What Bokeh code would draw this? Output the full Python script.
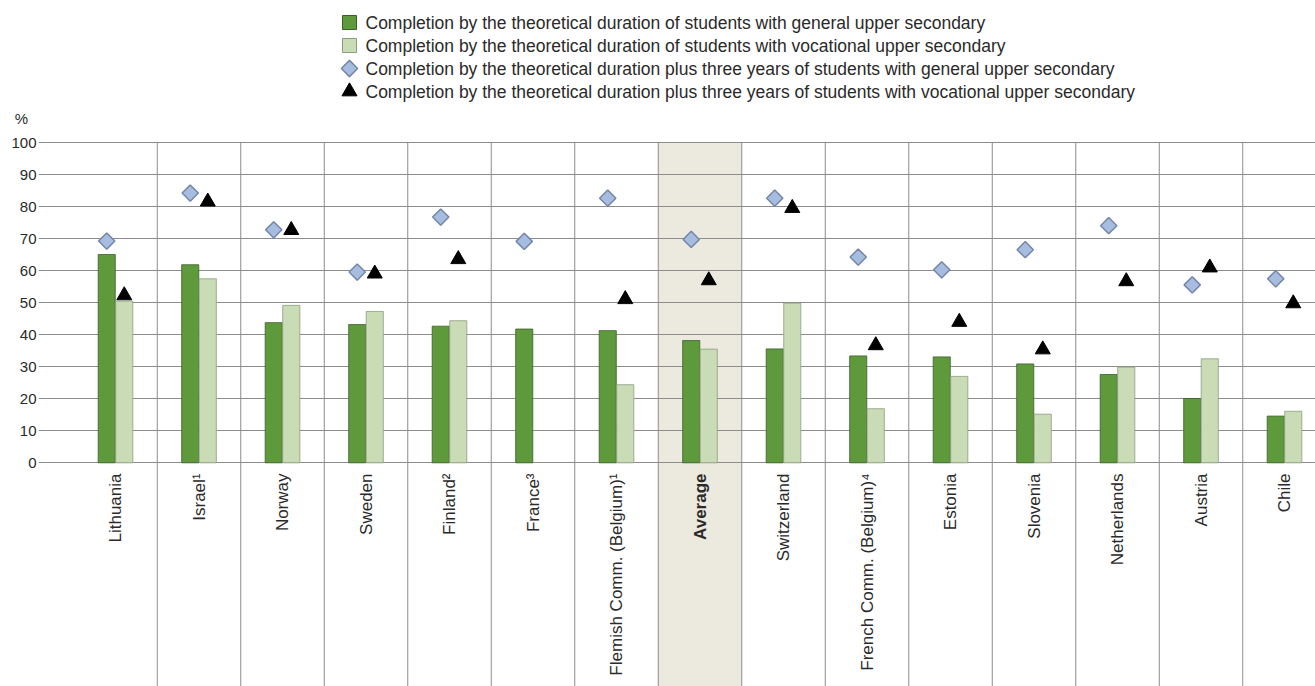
import math
import numpy as np
from bokeh.plotting import figure
from bokeh.models import ColumnDataSource, FixedTicker, Range1d
from bokeh.core.properties import value
from bokeh.embed import file_html
from bokeh.resources import INLINE

# ---------------- data ----------------
categories = ["Lithuania", "Israel\u00b9", "Norway", "Sweden", "Finland\u00b2", "France\u00b3",
              "Flemish Comm. (Belgium)\u00b9", "Average", "Switzerland",
              "French Comm. (Belgium)\u2074", "Estonia", "Slovenia", "Netherlands",
              "Austria", "Chile"]
general = [65.1, 61.9, 43.8, 43.2, 42.7, 41.8, 41.3, 38.2, 35.6, 33.4, 33.1, 30.9, 27.6, 20.1, 14.6]
vocational = [50.5, 57.5, 49.2, 47.3, 44.4, np.nan, 24.4, 35.5, 49.9, 16.9, 27.0, 15.2, 29.9, 32.5, 16.1]
general_plus3 = [69.3, 84.3, 72.8, 59.6, 76.8, 69.2, 82.7, 69.8, 82.7, 64.3, 60.3, 66.6, 74.1, 55.6, 57.5]
vocational_plus3 = [52.3, 81.6, 72.7, 59.1, 63.6, np.nan, 51.1, 57.0, 79.6, 36.7, 44.0, 35.4, 56.7, 61.0, 49.8]
legend_labels = [
    "Completion by the theoretical duration of students with general upper secondary",
    "Completion by the theoretical duration of students with vocational upper secondary",
    "Completion by the theoretical duration plus three years of students with general upper secondary",
    "Completion by the theoretical duration plus three years of students with vocational upper secondary",
]
y_ticks = [0, 10, 20, 30, 40, 50, 60, 70, 80, 90, 100]
unit_label = "%"
highlight = "Average"

# ---------------- styling / geometry ----------------
FONT = "Liberation Sans"
DARK = "#5e9a3c"
LIGHT = "#c9dcb5"
DIAMOND = "#a6bde0"
DIAMOND_LINE = "#7486a8"
BAND = "#ece9de"
GRID = "#8c8c8c"
TXT = "#2a2a2a"

W, H = 1315, 686
LEFT = 38                 # frame left inside figure
PITCH = 83.5              # px per category
FIRST = 115.0             # first category centre, px from figure left
ZERO = 462.3              # y=0, px from figure top
PPU = 3.2                 # px per percentage point

x_start = (LEFT - FIRST) / PITCH
x_end = x_start + (W - LEFT) / PITCH
y_end = ZERO / PPU
y_start = y_end - H / PPU

def fx(px):   # figure px -> data x
    return (px - FIRST) / PITCH

def fy(py):   # figure px -> data y
    return (ZERO - py) / PPU

n = len(categories)
xs = list(range(n))
off = 0.105
bw = 0.205

src = ColumnDataSource(dict(
    x=xs,
    xg=[i - off for i in xs], xv=[i + off for i in xs],
    general=general, vocational=vocational,
    gp3=general_plus3, vp3=vocational_plus3,
))

p = figure(width=W, height=H, output_backend="svg", toolbar_location=None,
           x_range=Range1d(x_start, x_end), y_range=Range1d(y_start, y_end),
           min_border_left=LEFT, min_border_right=0, min_border_top=0, min_border_bottom=0,
           background_fill_color="white", border_fill_color="white")
p.outline_line_color = None
p.xaxis.visible = False
p.xgrid.visible = False

# y axis: numeric ticks plus the "%" unit shown as a label above the 100 tick
unit_pos = round(fy(118), 1)
p.yaxis.ticker = FixedTicker(ticks=y_ticks + [unit_pos])
p.yaxis.major_label_overrides = {unit_pos: unit_label + "\u2007"}
p.yaxis.axis_line_color = None
p.yaxis.major_tick_in = 0
p.yaxis.major_tick_out = 0
p.yaxis.minor_tick_line_color = None
p.yaxis.major_label_text_font = FONT
p.yaxis.major_label_text_font_size = "15px"
p.yaxis.major_label_text_color = TXT
p.yaxis.major_label_standoff = 2
p.ygrid.ticker = FixedTicker(ticks=y_ticks)
p.ygrid.grid_line_color = GRID
p.ygrid.grid_line_width = 1

# highlighted Average band (below the grid)
hi = categories.index(highlight)
p.quad(left=[hi - 0.5], right=[hi + 0.5], top=[y_ticks[-1]], bottom=[y_start],
       fill_color=BAND, line_color=None, level="image")

# category separators
sep = [i + 0.5 for i in xs]
p.segment(x0=sep, x1=sep, y0=[y_ticks[-1]] * n, y1=[y_start] * n,
          line_color=GRID, line_width=1)

# bars
p.vbar(x="xg", top="general", bottom=0, width=bw, source=src,
       fill_color=DARK, line_color="#3d5f2a", line_width=0.8)
p.vbar(x="xv", top="vocational", bottom=0, width=bw, source=src,
       fill_color=LIGHT, line_color="#8d9c80", line_width=0.8)

# markers
p.scatter(x="xg", y="gp3", source=src, marker="square", angle=math.pi / 4, size=11.5,
          fill_color=DIAMOND, line_color=DIAMOND_LINE, line_width=1.5)
p.scatter(x="xv", y="vp3", source=src, marker="triangle", size=15,
          fill_color="black", line_color="black")

# category labels (rotated, below the zero line)
lab_y = fy(473)
normal_idx = [i for i in xs if categories[i] != highlight]
p.text(x=[i for i in normal_idx], y=[lab_y] * len(normal_idx),
       text=[categories[i] for i in normal_idx], angle=math.pi / 2,
       text_align="right", text_baseline="middle",
       text_font=value(FONT), text_font_size="17px", text_color=TXT)
p.text(x=[hi], y=[lab_y], text=[highlight], angle=math.pi / 2,
       text_align="right", text_baseline="middle",
       text_font=value(FONT), text_font_size="17px", text_font_style="bold", text_color=TXT)

# legend (manual, to keep marker sizes as in the reference)
rows_py = [22, 45, 68, 91]
mx = fx(349)
tx = fx(365)
ly = [fy(v) for v in rows_py]
p.scatter(x=[mx], y=[ly[0]], marker="square", size=14, fill_color=DARK, line_color="#3d5f2a")
p.scatter(x=[mx], y=[ly[1]], marker="square", size=14, fill_color=LIGHT, line_color="#8d9c80")
p.scatter(x=[mx], y=[ly[2]], marker="square", angle=math.pi / 4, size=11.5,
          fill_color=DIAMOND, line_color=DIAMOND_LINE, line_width=1.5)
p.scatter(x=[mx], y=[ly[3]], marker="triangle", size=15, fill_color="black", line_color="black")
p.text(x=[tx] * 4, y=ly, text=legend_labels, text_align="left", text_baseline="middle",
       text_font=value(FONT), text_font_size="17.5px", text_color=TXT)

open("out.html", "w").write(file_html(p, INLINE))
